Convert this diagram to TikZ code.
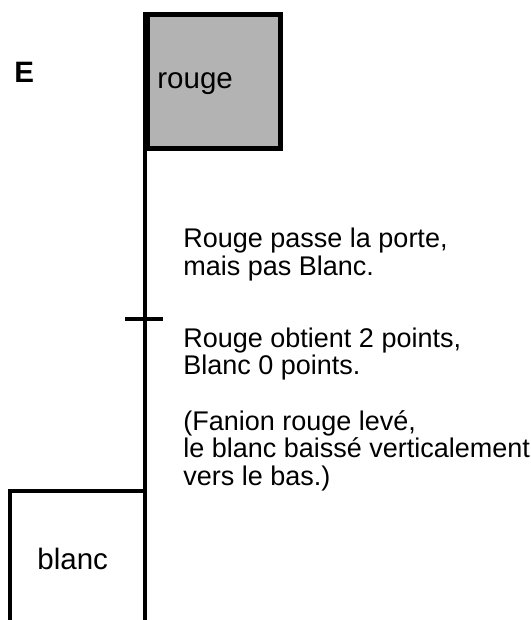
\documentclass[tikz,border=0pt]{standalone}
\usepackage{fontspec}
\setmainfont{Liberation Sans}
\definecolor{flaggray}{RGB}{179,179,179}
\begin{document}
\begin{tikzpicture}[x=1pt,y=-1pt, line width=4.8pt,
  txt/.style={anchor=base west, inner sep=0pt, font=\fontsize{27}{30}\selectfont},
  lbl/.style={anchor=base west, inner sep=0pt, font=\fontsize{29.5}{33}\selectfont},
  flagbox/.style={draw, fill=flaggray, inner sep=0pt, anchor=north west}]
\useasboundingbox (0,0) rectangle (530,620);
% red flag (grey box)
\node[flagbox, minimum width=133pt, minimum height=134pt] (rouge) at (145,12) {};
\node[lbl] (rougetxt) at (155,89) {rouge};
% pole
\coordinate (polebot) at (145,630);
\draw (rouge.north west) -- (polebot);
% tick on the pole
\coordinate (tickL) at (125,319);
\coordinate (tickR) at (163,319);
\draw (tickL) -- (tickR);
% white flag (open box)
\coordinate (wbl) at (10,630);
\coordinate (wtl) at (10,491);
\coordinate (wtr) at (145,491);
\draw[line join=miter] (wbl) -- (wtl) -- (wtr);
\node[lbl] (blanctxt) at (35,569) {blanc};
% letter
\node[lbl, font=\fontsize{29.5}{33}\selectfont\bfseries] (E) at (12,83) {E};
% explanations
\node[txt] (t1) at (181,247) {Rouge passe la porte,};
\node[txt] (t2) at (181,275) {mais pas Blanc.};
\node[txt] (t3) at (181,347) {Rouge obtient 2 points,};
\node[txt] (t4) at (181,374) {Blanc 0 points.};
\node[txt] (t5) at (181,430) {(Fanion rouge levé,};
\node[txt] (t6) at (181,457) {le blanc baissé verticalement};
\node[txt] (t7) at (181,485) {vers le bas.)};
\end{tikzpicture}
\end{document}
